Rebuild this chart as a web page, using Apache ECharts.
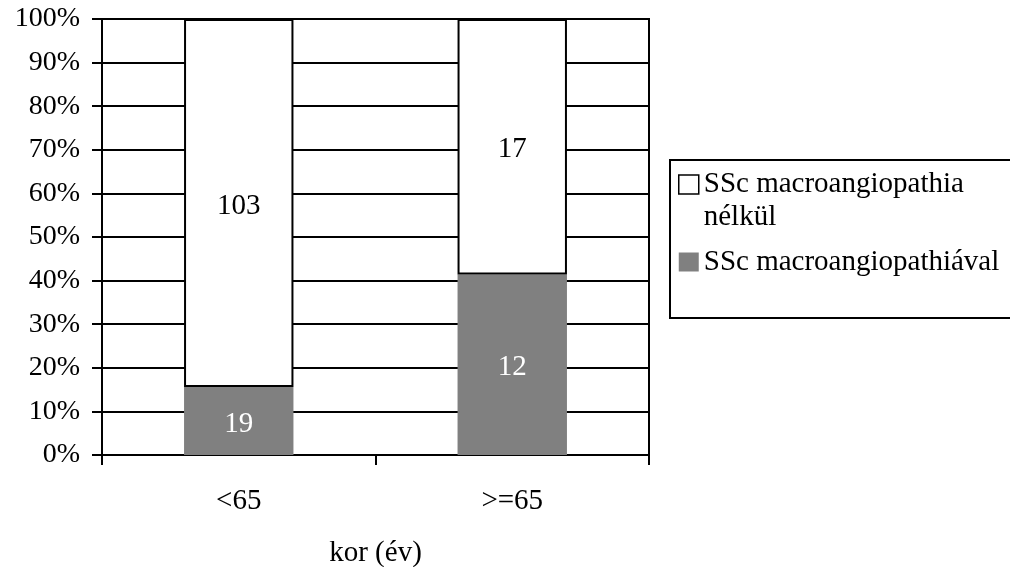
<!DOCTYPE html>
<html><head><meta charset="utf-8">
<script src="https://cdn.jsdelivr.net/npm/echarts@6/dist/echarts.min.js"></script>
<style>html,body{margin:0;padding:0;background:#fff}#c{width:1010px;height:567px}</style>
</head><body><div id="c"></div>
<script>
const categories = ['<65', '>=65'];
const countWith = [19, 12];      // SSc macroangiopathiával
const countWithout = [103, 17];  // SSc macroangiopathia nélkül
const nameWithout = 'SSc macroangiopathia nélkül';
const nameWith = 'SSc macroangiopathiával';
const xAxisTitle = 'kor (év)';

const totals = categories.map((c, i) => countWith[i] + countWithout[i]);
const pctWith = countWith.map((v, i) => v / totals[i] * 100);
const pctWithout = countWithout.map((v, i) => v / totals[i] * 100);

const FONT = "'Liberation Serif', 'Times New Roman', serif";
const FS = 29;

const chart = echarts.init(document.getElementById('c'), null, {renderer: 'canvas'});
chart.setOption({
  animation: false,
  backgroundColor: '#fff',
  grid: {left: 102, right: 361, top: 19, bottom: 112, containLabel: false, outerBoundsMode: 'none',
    show: true, borderColor: '#000', borderWidth: 2, backgroundColor: 'transparent'},
  xAxis: {
    type: 'category',
    data: categories,
    boundaryGap: true,
    name: xAxisTitle,
    nameLocation: 'middle',
    nameGap: 84,
    nameTextStyle: {fontFamily: FONT, fontSize: FS, color: '#000'},
    axisLine: {lineStyle: {color: '#000', width: 2}},
    axisTick: {show: true, length: 10, inside: false, alignWithLabel: false, lineStyle: {color: '#000', width: 2}},
    axisLabel: {fontFamily: FONT, fontSize: FS, color: '#000', margin: 32},
    splitLine: {show: false}
  },
  yAxis: {
    type: 'value',
    min: 0, max: 100, interval: 10,
    axisLine: {show: true, lineStyle: {color: '#000', width: 2}},
    axisTick: {show: true, length: 10, lineStyle: {color: '#000', width: 2}},
    axisLabel: {fontFamily: FONT, fontSize: 28, color: '#000', margin: 22, formatter: '{value}%'},
    splitLine: {show: true, lineStyle: {color: '#000', width: 2}}
  },
  legend: {
    orient: 'vertical',
    left: 670, top: 160,
    padding: [8, 40, 30, 8],
    borderColor: '#000', borderWidth: 2,
    itemWidth: 20, itemHeight: 52, itemGap: 2,
    selectedMode: false,
    textStyle: {fontFamily: FONT, fontSize: FS, color: '#000', lineHeight: 33},
    formatter: function (n) { return n === nameWithout ? 'SSc macroangiopathia\nnélkül' : n; },
    data: [
      {name: nameWithout, icon: 'path://M0,0L20,0L20,19L0,19Z M0,52',
       itemStyle: {color: '#fff', borderColor: '#000', borderWidth: 1.5}},
      {name: nameWith, icon: 'path://M0,16.5L20,16.5L20,35.5L0,35.5Z M0,0 M0,52',
       itemStyle: {color: '#808080', borderWidth: 0}}
    ]
  },
  series: [
    {
      name: nameWith, type: 'bar', stack: 'all', barWidth: '40%',
      data: pctWith,
      itemStyle: {color: '#808080', borderWidth: 0},
      label: {show: true, position: 'inside', offset: [0, 3], fontFamily: FONT, fontSize: FS, color: '#fff',
        formatter: p => String(countWith[p.dataIndex])}
    },
    {
      name: nameWithout, type: 'bar', stack: 'all', barWidth: '40%',
      data: pctWithout,
      itemStyle: {color: '#fff', borderColor: '#000', borderWidth: 2},
      label: {show: true, position: 'inside', offset: [0, 3], fontFamily: FONT, fontSize: FS, color: '#000',
        formatter: p => String(countWithout[p.dataIndex])}
    }
  ]
});
</script></body></html>
